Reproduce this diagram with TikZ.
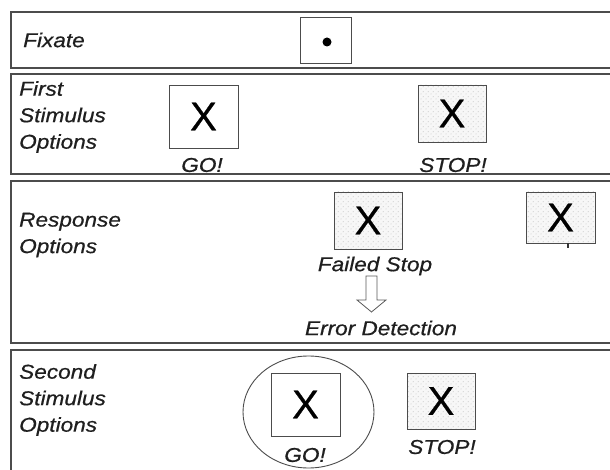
\documentclass[tikz,border=0pt]{standalone}
\usepackage{fontspec}
\setmainfont{Liberation Sans}[FakeStretch=1.13, FakeBold=0.6]
\newfontfamily\xfont{Liberation Sans}[FakeBold=0.6]
\usetikzlibrary{calc,patterns.meta}
\tikzdeclarepattern{name=stipple, type=uncolored,
  bounding box={(0pt,0pt) and (5pt,5pt)}, tile size={(5pt,5pt)},
  code={\fill (1.25pt,1.25pt) circle (0.5pt); \fill (3.75pt,3.75pt) circle (0.5pt);}}
\begin{document}
\begin{tikzpicture}[x=1pt,y=-1pt,
  panel/.style={draw=gray!60!black, line width=1.3pt},
  lab/.style={font=\fontsize{20}{26.5}\selectfont\itshape, text=black!88, inner sep=0pt},
  rowlab/.style={lab, anchor=west, align=left},
  gobox/.style={draw=gray!60!black, line width=0.9pt, inner sep=0pt,
    font=\xfont\fontsize{40}{40}\selectfont, text=black},
  stopbox/.style={gobox, preaction={fill=gray!6}, pattern={stipple}, pattern color=gray!70},
  hollowarrow/.style={draw=gray!70!black, line width=0.8pt, fill=white}
]
\useasboundingbox (0,0) rectangle (610,470);
\clip (0,0) rectangle (610,470);
\fill[white] (0,0) rectangle (610,470);

% panels
\draw[panel] (11,12) rectangle (625,68);
\draw[panel] (11,74) rectangle (625,174);
\draw[panel] (11,181) rectangle (625,343);
\draw[panel] (11,350) rectangle (625,485);

% row labels
\node[rowlab] (l1) at (23,40) {Fixate};
\node[rowlab] (l2) at (19,117) {First\\Stimulus\\Options};
\node[rowlab] (l3) at (19,235) {Response\\Options};
\node[rowlab] (l4) at (19,400) {Second\\Stimulus\\Options};

% fixate
\node[gobox, minimum width=51pt, minimum height=46pt] (fix) at (325.5,40) {};
\fill[black] ($(fix.center)+(1.5,2)$) circle (4.5pt);

% first stimulus
\node[gobox, minimum width=69pt, minimum height=63pt] (go1) at (203.5,116.5) {X};
\node[stopbox, minimum width=68pt, minimum height=57pt] (stop1) at (452,113.5) {X};
\node[lab] (go1lab) at (202,165) {GO!};
\node[lab] (stop1lab) at (453,165) {STOP!};

% response
\node[stopbox, minimum width=68pt, minimum height=57pt] (fs) at (368,220.5) {X};
\node[stopbox, minimum width=69pt, minimum height=51pt] (rs) at (560.5,217.5) {X};
\draw[line width=1.3pt, black!80] ($(rs.south)+(7.5,0)$) -- ++(0,5);
\node[lab] (fslab) at (375,266) {Failed Stop};
\node[lab] (edlab) at (381,328) {Error Detection};
\coordinate (atop) at (371.5,276);
\coordinate (atip) at (371.5,312);
\draw[hollowarrow] ($(atop)+(-5.5,0)$) -- ($(atop)+(5.5,0)$) -- ($(atop)+(5.5,24)$)
  -- ($(atop)+(14.5,24)$) -- (atip) -- ($(atop)+(-14.5,24)$) -- ($(atop)+(-5.5,24)$) -- cycle;

% second stimulus
\draw[draw=gray!60!black, line width=0.9pt] (308.5,412) ellipse (65.5pt and 56pt);
\node[gobox, minimum width=69pt, minimum height=63pt] (go2) at (305.5,404.5) {X};
\node[stopbox, minimum width=68pt, minimum height=56pt] (stop2) at (441,401) {X};
\node[lab] (go2lab) at (305,455) {GO!};
\node[lab] (stop2lab) at (442,447) {STOP!};
\end{tikzpicture}
\end{document}
